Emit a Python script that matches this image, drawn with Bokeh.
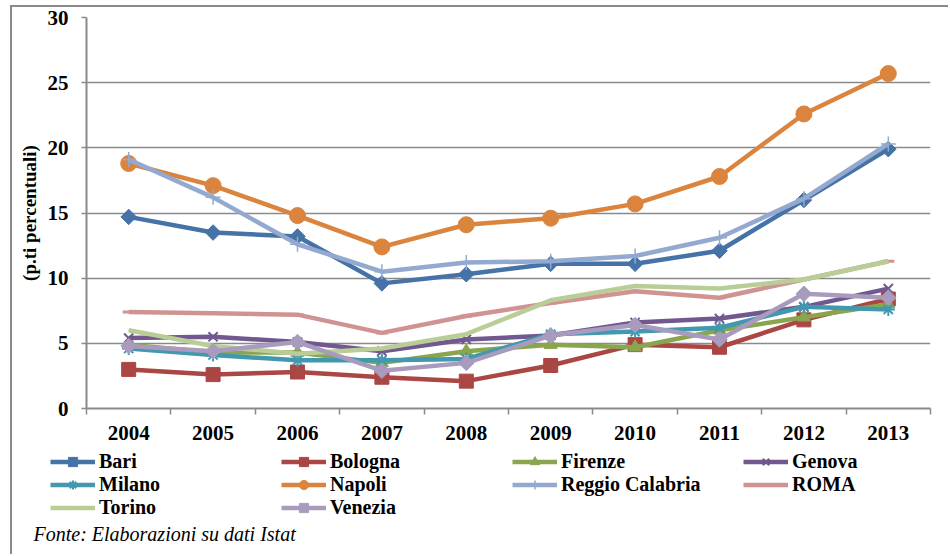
import numpy as np
from bokeh.plotting import figure
from bokeh.models import Range1d, FixedTicker, Legend, LegendItem, Label
from bokeh.embed import file_html
from bokeh.resources import INLINE

# ---- data ----
years = ["2004", "2005", "2006", "2007", "2008", "2009", "2010", "2011", "2012", "2013"]
y_ticks = [0, 5, 10, 15, 20, 25, 30]

bari = [14.7, 13.5, 13.2, 9.6, 10.3, 11.1, 11.1, 12.1, 16.0, 19.9]
bologna = [3.0, 2.6, 2.8, 2.4, 2.1, 3.3, 4.9, 4.7, 6.8, 8.4]
firenze = [4.9, 4.3, 4.3, 3.5, 4.4, 4.9, 4.7, 6.0, 7.0, 8.0]
genova = [5.4, 5.5, 5.1, 4.4, 5.3, 5.6, 6.6, 6.9, 7.8, 9.2]
milano = [4.6, 4.1, 3.7, 3.7, 3.8, 5.7, 5.9, 6.2, 7.8, 7.6]
napoli = [18.8, 17.1, 14.8, 12.4, 14.1, 14.6, 15.7, 17.8, 22.6, 25.7]
reggio = [19.1, 16.2, 12.6, 10.5, 11.2, 11.3, 11.7, 13.1, 16.1, 20.3]
roma = [7.4, 7.3, 7.2, 5.8, 7.1, 8.1, 9.0, 8.5, 9.9, 11.3]
torino = [6.0, 4.8, 4.2, 4.6, 5.7, 8.3, 9.4, 9.2, 9.9, 11.3]
venezia = [4.8, 4.4, 5.1, 2.9, 3.5, 5.6, 6.4, 5.3, 8.8, 8.5]

series_names = ["Bari", "Bologna", "Firenze", "Genova", "Milano", "Napoli",
                "Reggio Calabria", "ROMA", "Torino", "Venezia"]
series_values = [bari, bologna, firenze, genova, milano, napoli, reggio, roma, torino, venezia]
source_text = "Fonte: Elaborazioni su dati Istat"

# ---- styles ----
colors = ["#4572A7", "#AA4643", "#89A54E", "#71588F", "#4198AF", "#DB843D",
          "#93A9CF", "#D19392", "#B9CD96", "#A99BBD"]
markers = ["square", "square", "triangle", "x", "asterisk", "circle",
           "cross", "dash", "dash", "square"]
angles = [np.pi / 4, 0, 0, 0, 0, 0, 0, 0, 0, np.pi / 4]
sizes = [11, 14, 13, 13, 13, 16, 15, 12, 1, 11]
filled = [True, True, True, False, False, True, False, False, False, True]
mlw = [1, 1, 1, 2, 2, 1, 1.5, 3, 1, 1]

FONT = "Liberation Serif"
GRAY = "#8a8a8a"
W = 938

# ---- main chart ----
p = figure(width=W, height=440, x_range=Range1d(0, len(years)), y_range=Range1d(0, 30),
           output_backend="svg", toolbar_location=None,
           min_border_left=74, min_border_right=20, min_border_top=10, min_border_bottom=39)
p.styles = {"margin-left": "10px", "margin-top": "5px",
            "border-left": "2px solid #8a8a8a", "border-top": "2px solid #8a8a8a"}
p.outline_line_color = None
p.background_fill_color = "white"
p.border_fill_color = "white"
p.xgrid.visible = False
p.ygrid.grid_line_color = GRAY
p.ygrid.grid_line_width = 1.5

xs = [i + 0.5 for i in range(len(years))]

p.xaxis.ticker = FixedTicker(ticks=xs, minor_ticks=list(range(len(years) + 1)))
p.xaxis.major_label_overrides = {x: y for x, y in zip(xs, years)}
p.xaxis.axis_line_color = GRAY
p.xaxis.axis_line_width = 2
p.xaxis.major_tick_line_color = None
p.xaxis.major_tick_out = 0
p.xaxis.major_tick_in = 0
p.xaxis.minor_tick_line_color = GRAY
p.xaxis.minor_tick_line_width = 1.5
p.xaxis.minor_tick_out = 6
p.xaxis.minor_tick_in = 0
p.xaxis.major_label_standoff = 11

p.yaxis.ticker = FixedTicker(ticks=y_ticks)
p.yaxis.axis_line_color = GRAY
p.yaxis.axis_line_width = 2
p.yaxis.major_tick_line_color = GRAY
p.yaxis.major_tick_line_width = 1.5
p.yaxis.major_tick_out = 5
p.yaxis.major_tick_in = 0
p.yaxis.minor_tick_line_color = None
p.yaxis.major_label_standoff = 13
p.yaxis.axis_label = "(p.ti percentuali)"
p.yaxis.axis_label_standoff = 5
p.yaxis.axis_label_text_font = FONT
p.yaxis.axis_label_text_font_style = "bold"
p.yaxis.axis_label_text_font_size = "19px"
p.yaxis.axis_label_text_color = "black"

for ax in (p.xaxis, p.yaxis):
    ax.major_label_text_font = FONT
    ax.major_label_text_font_style = "bold"
    ax.major_label_text_font_size = "21px"
    ax.major_label_text_color = "black"

# ---- legend + source panel (separate root, so its frame is not aligned to p) ----
LH = 109
q = figure(width=W, height=LH, x_range=Range1d(0, W), y_range=Range1d(0, LH),
           output_backend="svg", toolbar_location=None,
           min_border_left=0, min_border_right=0, min_border_top=0, min_border_bottom=0)
q.styles = {"margin-left": "10px", "border-left": "2px solid #8a8a8a"}
q.axis.visible = False
q.grid.visible = False
q.outline_line_color = None
q.background_fill_color = "white"
q.border_fill_color = "white"

items = []
for name, vals, c, m, a, s, f, lw in zip(series_names, series_values, colors, markers,
                                          angles, sizes, filled, mlw):
    p.line(xs, vals, line_color=c, line_width=4.5, line_join="round")
    p.scatter(xs, vals, marker=m, angle=a, size=s, line_color=c,
              fill_color=c if f else None, line_width=lw)
    # legend swatches: same series/style, hidden in this panel
    ln = q.line(xs, vals, line_color=c, line_width=4.5, visible=False)
    sc = q.scatter(xs, vals, marker=m, angle=a, size=s, line_color=c,
                   fill_color=c if f else None, line_width=lw, visible=False)
    items.append(LegendItem(label=name, renderers=[ln, sc]))

legend = Legend(items=items, location=(38, 35), orientation="horizontal", ncols=4,
                glyph_width=45, glyph_height=23, label_width=182, label_height=20,
                label_standoff=4, spacing=0, padding=0, margin=0,
                border_line_color=None, background_fill_alpha=0,
                inactive_fill_alpha=0,
                label_text_font=FONT, label_text_font_style="bold",
                label_text_font_size="20px", label_text_color="black")
q.add_layout(legend)

src = Label(x=21, y=21, text=source_text, text_font=FONT,
            text_font_style="italic", text_font_size="20px", text_color="black",
            text_baseline="middle", text_align="left")
q.add_layout(src)

open("out.html", "w").write(file_html([p, q], INLINE))
